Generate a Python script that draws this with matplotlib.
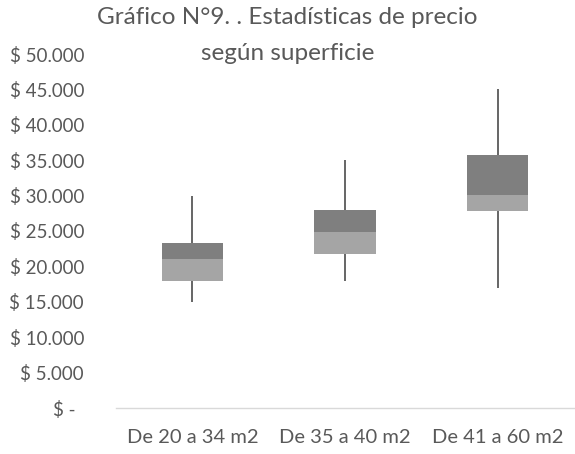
import numpy as np
import matplotlib
matplotlib.use("Agg")
import matplotlib.pyplot as plt
from matplotlib.ticker import FuncFormatter
from matplotlib.transforms import ScaledTranslation

categorias = ["De 20 a 34 m2", "De 35 a 40 m2", "De 41 a 60 m2"]
minimo = [15000, 18000, 17000]
q1 = [18000, 21800, 27800]
mediana = [21000, 24900, 30100]
q3 = [23300, 28000, 35800]
maximo = [30000, 35000, 45000]

texto = "#595959"
plt.rcParams["font.family"] = ["Lato", "DejaVu Sans"]

fig = plt.figure(figsize=(5.75, 4.54), dpi=100)
ax = fig.add_axes([116 / 575, 1 - 408 / 454, 458 / 575, 354 / 454])

x = np.arange(len(categorias))
q1 = np.array(q1)
mediana = np.array(mediana)
q3 = np.array(q3)

# bigotes detrás de las cajas
ax.vlines(x, minimo, maximo, color="#595959", linewidth=1.3, zorder=1)
ax.bar(x, mediana - q1, bottom=q1, width=0.4, color="#A5A5A5", zorder=2)
ax.bar(x, q3 - mediana, bottom=mediana, width=0.4, color="#7F7F7F", zorder=2)

ax.set_xlim(-0.5, len(categorias) - 0.5)
ax.set_ylim(0, 50000)
ax.set_yticks(np.arange(0, 50001, 5000))


def fmt(v, pos):
    if v == 0:
        return "$ -"
    return "$ " + f"{int(v):,}".replace(",", ".")


ax.yaxis.set_major_formatter(FuncFormatter(fmt))
ax.set_xticks(x)
ax.set_xticklabels(categorias)

for s in ["top", "right", "left"]:
    ax.spines[s].set_visible(False)
ax.spines["bottom"].set_color("#D9D9D9")
ax.spines["bottom"].set_linewidth(1.0)
ax.tick_params(axis="x", length=0, labelsize=14.5, colors=texto, pad=15)
ax.tick_params(axis="y", length=0, labelsize=13.5, colors=texto, pad=23)

# "$ -" queda alineado como formato contabilidad
lbl0 = ax.yaxis.get_major_ticks()[0].label1
lbl0.set_transform(lbl0.get_transform() + ScaledTranslation(-9 / 100, 0, fig.dpi_scale_trans))

fig.text(0.5, 1 - 18 / 454, "Gráfico N°9. . Estadísticas de precio",
         ha="center", va="center", fontsize=17.5, color=texto)
fig.text(0.5, 1 - 53 / 454, "según superficie",
         ha="center", va="center", fontsize=17.5, color=texto)

fig.savefig("out.png", dpi=100)
